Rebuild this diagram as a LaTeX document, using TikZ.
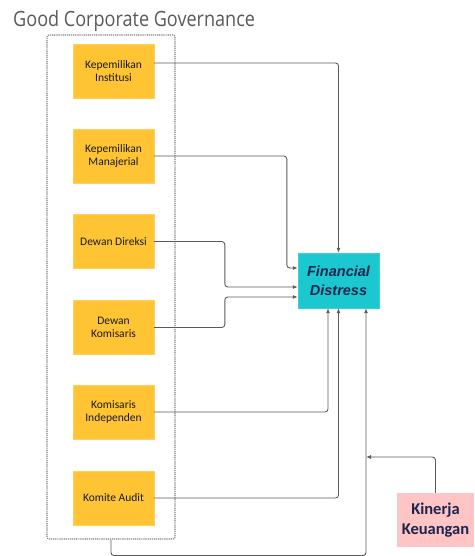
\documentclass[tikz,border=0pt]{standalone}
\usepackage{fontspec}
\setmainfont{Carlito}
\newfontfamily\titlefont{Open Sans}
\newfontfamily\arialfont{Liberation Sans}
\usetikzlibrary{arrows.meta}
\definecolor{boxorange}{HTML}{FFC433}
\definecolor{fdcyan}{HTML}{1CC8D0}
\definecolor{kkpink}{HTML}{FFC4C4}
\definecolor{navy}{HTML}{1A2550}
\definecolor{linegray}{HTML}{5A5A5A}
\tikzset{
  gcgbox/.style={fill=boxorange, draw=boxorange!80!white, minimum width=81pt, minimum height=54pt, inner sep=0pt, align=center, font=\fontsize{11.5}{12.5}\selectfont, text=black!90},
  conn/.style={draw=linegray, line width=0.9pt, rounded corners=3pt, -{Latex[length=5pt,width=4pt]}},
}
\begin{document}
\begin{tikzpicture}[x=1pt,y=-1pt]
\useasboundingbox (0,0) rectangle (474,556);
\node[anchor=base west, inner sep=0pt, text=black!65] (title) at (13,27) {\titlefont\fontsize{21}{24}\selectfont\scalebox{0.86}[1]{Good Corporate Governance}};
\node[draw=black!50, dash pattern=on 1.2pt off 0.9pt, line width=1.1pt, rounded corners=2pt, minimum width=128pt, minimum height=504pt, inner sep=0pt] (gcg) at (111,287) {};
\node[gcgbox] (ki) at (113.5,71) {Kepemilikan\\Institusi};
\node[gcgbox] (km) at (113.5,156) {Kepemilikan\\Manajerial};
\node[gcgbox] (dd) at (113.5,241.5) {Dewan Direksi};
\node[gcgbox] (dk) at (113.5,327.5) {Dewan\\Komisaris};
\node[gcgbox] (kin) at (113.5,412) {Komisaris\\Independen};
\node[gcgbox] (ka) at (113.5,498) {Komite Audit};
\node[fill=fdcyan, draw=fdcyan!85!white, minimum width=81pt, minimum height=55pt, inner sep=0pt, align=center, text=navy, font=\arialfont\bfseries\itshape\fontsize{14.5}{19}\selectfont] (fd) at (338.5,280.5) {Financial\\Distress};
\node[fill=kkpink, minimum width=77pt, minimum height=54pt, inner sep=0pt, align=center, text=navy, font=\bfseries\fontsize{16.5}{20}\selectfont] (kk) at (435.5,520) {Kinerja\\Keuangan};
\coordinate (join) at (366,457);
\draw[conn] ([yshift=8pt]ki.east) -| (fd.north);
\draw[conn] (km.east) -| ([xshift=-11pt,yshift=12.5pt]fd.west) -- ([yshift=12.5pt]fd.west);
\draw[conn] (dd.east) -| ([xshift=-73pt,yshift=-6.5pt]fd.west) -- ([yshift=-6.5pt]fd.west);
\draw[conn] (dk.east) -| ([xshift=-73pt,yshift=-16.5pt]fd.west) -- ([yshift=-16.5pt]fd.west);
\draw[conn] (kin.east) -| ([xshift=-10.5pt]fd.south);
\draw[conn] (ka.east) -| (fd.south);
\draw[conn] (gcg.south) -- ++(0,16) -| ([xshift=27.5pt]fd.south);
\draw[conn] (kk.north) |- (join);
\end{tikzpicture}
\end{document}
